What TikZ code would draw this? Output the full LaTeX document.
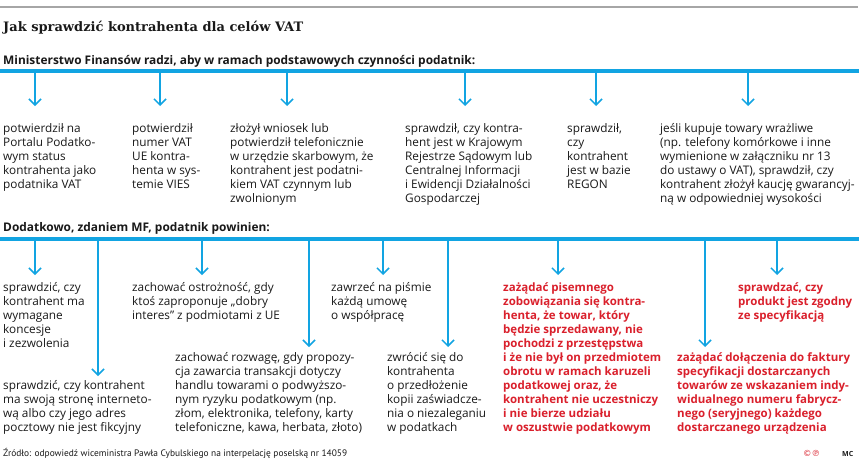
\documentclass[tikz,border=0pt]{standalone}
\usepackage{fontspec}
\setmainfont{Open Sans}
\newfontfamily\titlefont{DejaVu Serif}
\newfontfamily\symfont{DejaVu Sans}
\newfontfamily\footfont{PT Sans}
\usetikzlibrary{arrows.meta}
\definecolor{barblue}{RGB}{18,164,226}
\definecolor{txtred}{RGB}{218,32,44}
\definecolor{txt}{RGB}{25,25,25}
\begin{document}
\begin{tikzpicture}[x=1pt,y=-1pt,
  bar/.style={line width=4.5pt,barblue},
  rule/.style={line width=1.5pt,black!35},
  conn/.style={line width=1.5pt,barblue,-{Straight Barb[length=6pt,width=12pt]}},
  body/.style={anchor=north west,inner sep=0pt,align=left,text=txt,
    font=\fontsize{11.8}{14}\selectfont,execute at begin node={\rule{0pt}{9pt}}},
  redbody/.style={body,text=txtred,font=\fontsize{11.5}{14}\selectfont\bfseries},
  head/.style={anchor=base west,inner sep=0pt,text=txt,font=\fontsize{11.9}{14}\selectfont\bfseries},
  titlestyle/.style={anchor=base west,inner sep=0pt,text=txt,font=\titlefont\bfseries\fontsize{13}{15}\selectfont},
  foot/.style={anchor=base west,inner sep=0pt,text=txt,font=\footfont\fontsize{9.4}{10}\selectfont}]
\fill[white] (0,0) rectangle (867,463);
\useasboundingbox (0,0) rectangle (867,463);
% top rule and title
\coordinate (rl) at (0,7);
\coordinate (rr) at (858,7);
\draw[rule] (rl) -- (rr);
\node[titlestyle] (title) at (3,31.5) {Jak sprawdzić kontrahenta dla celów VAT};
\node[head] (h1) at (3,64) {Ministerstwo Finansów radzi, aby w ramach podstawowych czynności podatnik:};
% bar 1
\coordinate (b1l) at (0,71);
\coordinate (b1r) at (859,71);
\draw[bar] (b1l) -- (b1r);
% row 1 texts
\node[body] (a1) at (3,123) {potwierdził na\\Portalu Podatko-\\wym status\\kontrahenta jako\\podatnika VAT};
\node[body] (a2) at (132,123) {potwierdził\\numer VAT\\UE kontra-\\henta w sys-\\temie VIES};
\node[body] (a3) at (230,123) {złożył wniosek lub\\potwierdził telefonicznie\\w urzędzie skarbowym, że\\kontrahent jest podatni-\\kiem VAT czynnym lub\\zwolnionym};
\node[body] (a4) at (405,123) {sprawdził, czy kontra-\\hent jest w Krajowym\\Rejestrze Sądowym lub\\Centralnej Informacji\\i Ewidencji Działalności\\Gospodarczej};
\node[body] (a5) at (567,123) {sprawdził,\\czy\\kontrahent\\jest w bazie\\REGON};
\node[body] (a6) at (660,123) {jeśli kupuje towary wrażliwe\\(np. telefony komórkowe i inne\\wymienione w załączniku nr 13\\do ustawy o VAT), sprawdził, czy\\kontrahent złożył kaucję gwarancyj-\\ną w odpowiedniej wysokości};
% row 1 connectors
\foreach \i/\x in {1/35,2/160,3/287,4/465,5/596,6/748}{
  \coordinate (s1\i) at (\x,72);
  \coordinate (e1\i) at (\x,106);
  \draw[conn] (s1\i) -- (e1\i);
}
% heading 2
\node[head] (h2) at (3,231) {Dodatkowo, zdaniem MF, podatnik powinien:};
% bar 2
\coordinate (b2l) at (0,239);
\coordinate (b2r) at (859,239);
\draw[bar] (b2l) -- (b2r);
% row 2 texts
\node[body] (c1) at (3,282) {sprawdzić, czy\\kontrahent ma\\wymagane\\koncesje\\i zezwolenia};
\node[body] (c2) at (3,380) {sprawdzić, czy kontrahent\\ma swoją stronę interneto-\\wą albo czy jego adres\\pocztowy nie jest fikcyjny};
\node[body] (c3) at (132,282) {zachować ostrożność, gdy\\ktoś zaproponuje „dobry\\interes” z podmiotami z UE};
\node[body] (c4) at (175,352) {zachować rozwagę, gdy propozy-\\cja zawarcia transakcji dotyczy\\handlu towarami o podwyższo-\\nym ryzyku podatkowym (np.\\złom, elektronika, telefony, karty\\telefoniczne, kawa, herbata, złoto)};
\node[body] (c5) at (331,282) {zawrzeć na piśmie\\każdą umowę\\o współpracę};
\node[body] (c6) at (387,352) {zwrócić się do\\kontrahenta\\o przedłożenie\\kopii zaświadcze-\\nia o niezaleganiu\\w podatkach};
\node[redbody] (c7) at (503,282) {zażądać pisemnego\\zobowiązania się kontra-\\henta, że towar, który\\będzie sprzedawany, nie\\pochodzi z przestępstwa\\i że nie był on przedmiotem\\obrotu w ramach karuzeli\\podatkowej oraz, że\\kontrahent nie uczestniczy\\i nie bierze udziału\\w oszustwie podatkowym};
\node[redbody] (c8) at (677,352) {zażądać dołączenia do faktury\\specyfikacji dostarczanych\\towarów ze wskazaniem indy-\\widualnego numeru fabrycz-\\nego (seryjnego) każdego\\dostarczanego urządzenia};
\node[redbody] (c9) at (738,282) {sprawdzać, czy\\produkt jest zgodny\\ze specyfikacją};
% row 2 connectors
\foreach \i/\x/\y in {1/35/275,2/98/376,3/202/275,4/309/347,5/383/275,6/448/347,7/558/275,8/705/347,9/777/275}{
  \coordinate (s2\i) at (\x,240);
  \coordinate (e2\i) at (\x,\y);
  \draw[conn] (s2\i) -- (e2\i);
}
% footer
\node[foot] (src) at (3,456) {Źródło: odpowiedź wiceministra Pawła Cybulskiego na interpelację poselską nr 14059};
\node[anchor=base west,inner sep=0pt,text=txtred,font=\symfont\fontsize{8.5}{10}\selectfont] (cp) at (803,456) {©℗};
\node[anchor=base west,inner sep=0pt,text=txt,font=\fontsize{7}{8}\selectfont\bfseries] (mc) at (842,456) {MC};
\end{tikzpicture}
\end{document}
